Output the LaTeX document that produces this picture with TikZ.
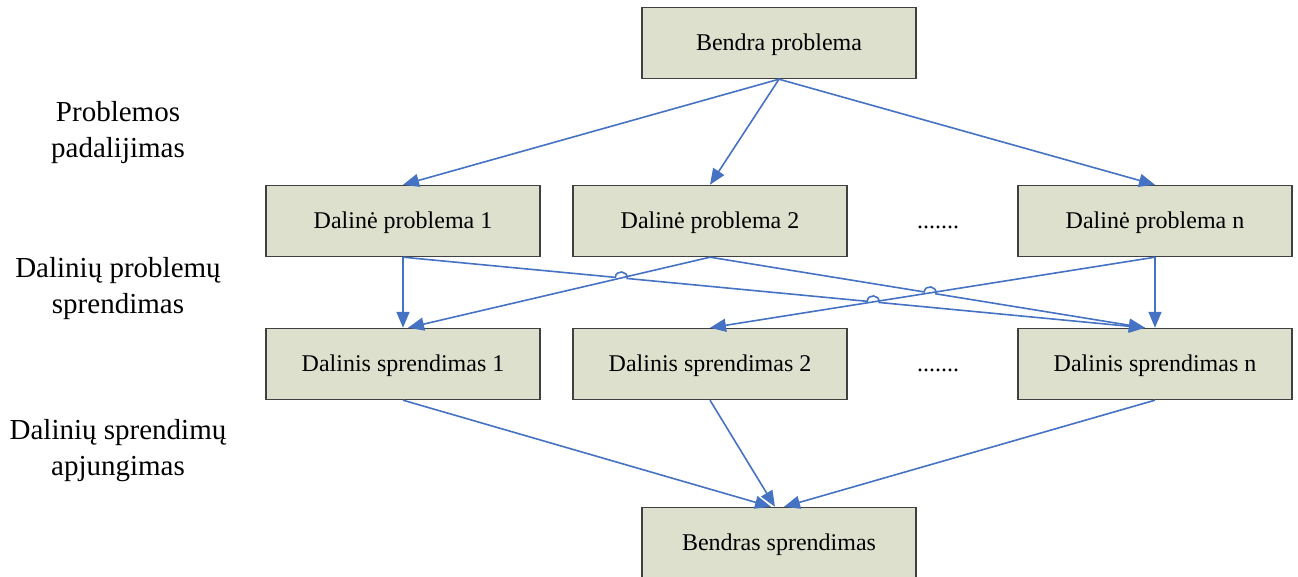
\documentclass[tikz,border=0pt]{standalone}
\usepackage{fontspec}
\setmainfont{Liberation Serif}
\usetikzlibrary{arrows.meta,calc}
\definecolor{boxfill}{RGB}{221,224,204}
\definecolor{boxline}{RGB}{64,64,64}
\definecolor{arrblue}{RGB}{70,114,196}
\begin{document}
\begin{tikzpicture}[x=1pt,y=1pt,
  box/.style={draw=boxline,line width=1.4pt,fill=boxfill,minimum width=274pt,minimum height=71pt,inner sep=0pt,text depth=2pt,font=\fontsize{24}{28}\selectfont},
  lbl/.style={align=center,font=\fontsize{29}{36}\selectfont},
  arr/.style={draw=arrblue,line width=1.6pt,-{Triangle[length=16pt,width=13pt]}},
  hop/.style={out=85,in=85,looseness=1.7},
  dots/.style={anchor=base,font=\fontsize{24}{28}\selectfont}]
\useasboundingbox (0,0) rectangle (1298,577);
\clip (0,0) rectangle (1298,577);
% boxes
\node[box] (BP) at (779,534) {Bendra problema};
\node[box] (P1) at (403,356) {Dalinė problema 1};
\node[box] (P2) at (710,356) {Dalinė problema 2};
\node[box] (Pn) at (1155,356) {Dalinė problema n};
\node[box] (S1) at (403,213) {Dalinis sprendimas 1};
\node[box] (S2) at (710,213) {Dalinis sprendimas 2};
\node[box] (Sn) at (1155,213) {Dalinis sprendimas n};
\node[box] (BS) at (779,34) {Bendras sprendimas};
% dots
\node[dots] (d1) at (938,348) {.......};
\node[dots] (d2) at (938,205) {.......};
% side labels
\node[lbl] (L1) at (118,444) {Problemos\\padalijimas};
\node[lbl] (L2) at (118,288) {Dalinių problemų\\sprendimas};
\node[lbl] (L3) at (118,126) {Dalinių sprendimų\\apjungimas};
% endpoints
\coordinate (s1r) at ([xshift=5pt]S1.north);
\coordinate (snl) at ([xshift=-10pt]Sn.north);
\coordinate (bs1) at ([xshift=-8pt]BS.north);
\coordinate (bs2) at ([xshift=-4pt]BS.north);
\coordinate (bsn) at ([xshift=5pt]BS.north);
% top level
\draw[arr] (BP.south) -- (P1.north);
\draw[arr] (BP.south) -- (P2.north);
\draw[arr] (BP.south) -- (Pn.north);
% middle
\draw[arr] (P1.south) -- (S1.north);
\draw[arr] (Pn.south) -- (Sn.north);
\draw[arr] (P2.south) -- (s1r);
\draw[arr] (Pn.south) -- (S2.north);
\coordinate (X1) at (intersection of P1.south--snl and P2.south--s1r);
\coordinate (X2) at (intersection of P1.south--snl and Pn.south--S2.north);
\coordinate (X3) at (intersection of P2.south--snl and Pn.south--S2.north);
\draw[arr] (P1.south) -- ($(X1)!6pt!(P1.south)$) to[hop] ($(X1)!6pt!(snl)$)
  -- ($(X2)!6pt!(P1.south)$) to[hop] ($(X2)!6pt!(snl)$) -- (snl);
\draw[arr] (P2.south) -- ($(X3)!6pt!(P2.south)$) to[hop,out=81,in=81] ($(X3)!6pt!(snl)$) -- (snl);
% bottom
\draw[arr] (S1.south) -- (bs1);
\draw[arr] (S2.south) -- (bs2);
\draw[arr] (Sn.south) -- (bsn);
\end{tikzpicture}
\end{document}
